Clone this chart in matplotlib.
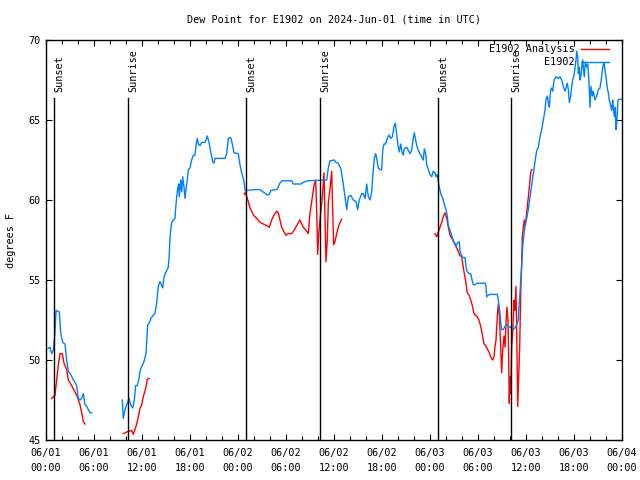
import matplotlib
matplotlib.use("Agg")
import matplotlib.pyplot as plt
import matplotlib.dates as mdates
import numpy as np
import datetime as dt

# ---------------- data (hours since 2024-06-01 00:00 UTC, dew point F) ----------------
obs1_hours = [0.25, 0.5, 0.71, 0.92, 1.12, 1.25, 1.67, 1.83, 2.08, 2.38, 2.58, 2.79, 3.08,
              3.42, 3.62, 3.83, 4.04, 4.25, 4.46, 4.67, 4.88, 5.08, 5.29, 5.5, 5.71]
obs1_dewpt = [50.7, 50.8, 50.4, 50.6, 51.7, 53.1, 53.0, 51.7, 51.1, 51.0, 50.0, 49.3, 49.1,
              48.75, 48.6, 48.4, 47.6, 47.5, 47.6, 47.9, 47.2, 47.1, 46.9, 46.7, 46.7]

obs2_hours = [9.54, 9.66, 9.88, 10.16, 10.38, 10.59, 10.84, 11.04, 11.21, 11.41, 11.62, 11.75,
              11.96, 12.25, 12.5, 12.71, 12.91, 13.12, 13.41, 13.62, 13.84, 14.04, 14.25, 14.59,
              14.75, 15.0, 15.29, 15.41, 15.5, 15.71, 15.91, 16.12, 16.21, 16.34, 16.46, 16.59,
              16.66, 16.84, 16.96, 17.09, 17.25, 17.38, 17.5, 17.66, 17.79, 18.0, 18.21, 18.41,
              18.62, 18.75, 18.91, 19.04, 19.25, 19.46, 19.88, 20.16, 20.38, 20.59, 20.84, 21.0,
              21.12, 21.75, 22.38, 22.59, 22.79, 23.09, 23.29, 23.5, 24.04, 24.25, 24.46, 24.75,
              24.88, 25.09, 26.12, 26.75, 27.16, 27.46, 27.71, 27.91, 28.12, 28.75, 28.96, 29.16,
              29.46, 30.71, 30.91, 31.34, 31.88, 32.16, 32.66, 35.09, 35.29, 35.5, 36.04, 36.25,
              36.54, 36.88, 37.16, 37.38, 37.59, 37.79, 38.09, 38.41, 38.75, 38.96, 39.16, 39.46,
              39.66, 39.88, 40.09, 40.29, 40.5, 40.71, 40.84, 41.04, 41.21, 41.34, 41.54, 41.75,
              41.96, 42.09, 42.25, 42.46, 42.66, 42.88, 43.09, 43.29, 43.5, 43.66, 43.84, 44.04,
              44.16, 44.34, 44.5, 44.66, 44.79, 45.09, 45.29, 45.5, 45.71, 45.91, 46.04, 46.21,
              46.34, 46.54, 46.75, 46.96, 47.16, 47.29, 47.46, 47.59, 47.79, 48.0, 48.21, 48.41,
              48.62, 48.75, 48.91, 49.04, 49.16, 49.34, 49.59, 49.75, 49.88, 50.0, 50.16, 50.29,
              50.5, 50.71, 50.91, 51.12, 51.25, 51.41, 51.66, 51.75, 51.96, 52.16, 52.38, 52.5,
              52.66, 52.91, 53.09, 53.21, 53.41, 53.62, 53.84, 54.88, 55.0, 55.09, 55.29, 55.5,
              56.41, 56.54, 56.66, 56.75, 56.84, 56.96, 57.16, 57.38, 57.59, 57.79, 58.0, 58.21,
              58.41, 58.62, 58.84, 59.04, 59.12, 59.25, 59.34, 59.46, 59.59, 59.75, 59.88, 60.09,
              60.29, 60.5, 60.71, 60.84, 61.0, 61.12, 61.34, 61.54, 61.75, 61.96, 62.16, 62.38,
              62.5, 62.66, 62.79, 62.91, 63.09, 63.21, 63.34, 63.5, 63.75, 64.04, 64.25, 64.46,
              64.66, 64.88, 65.0, 65.16, 65.29, 65.41, 65.59, 65.71, 65.84, 66.0, 66.12, 66.25,
              66.34, 66.46, 66.54, 66.66, 66.75, 66.88, 66.96, 67.09, 67.16, 67.29, 67.41, 67.59,
              67.71, 67.84, 68.0, 68.12, 68.29, 68.41, 68.62, 68.84, 69.04, 69.25, 69.46, 69.59,
              69.75, 69.88, 70.0, 70.16, 70.29, 70.41, 70.59, 70.71, 70.84, 70.91, 71.04, 71.16,
              71.25, 71.375, 71.5, 71.75, 71.96]
obs2_dewpt = [47.5, 46.35, 46.9, 47.3, 47.6, 47.2, 47.0, 47.5, 48.4, 48.4, 48.85, 49.3,
              49.6, 49.9, 50.4, 52.2, 52.3, 52.6, 52.8, 52.9, 53.6, 54.6, 54.9, 54.5,
              55.2, 55.5, 55.8, 56.6, 57.7, 58.6, 58.75, 58.85, 59.5, 60.2, 60.7, 61.0,
              60.2, 61.25, 60.5, 61.45, 60.8, 60.1, 60.7, 61.25, 61.9, 62.0, 62.5, 62.8,
              62.8, 63.4, 63.85, 63.5, 63.4, 63.6, 63.6, 64.0, 63.6, 63.0, 62.4, 62.3,
              62.6, 62.6, 62.6, 62.9, 63.85, 63.9, 63.5, 62.95, 62.9, 62.2, 61.7, 61.15,
              60.6, 60.6, 60.65, 60.65, 60.5, 60.4, 60.3, 60.35, 60.6, 60.65, 60.7, 61.0,
              61.2, 61.2, 61.0, 61.0, 61.0, 61.1, 61.2, 61.25, 62.0, 62.45, 62.5, 62.35,
              62.3, 61.9, 61.0, 60.2, 59.4, 60.2, 60.3, 60.0, 59.9, 59.4, 60.0, 60.4,
              60.4, 60.1, 61.0, 60.2, 60.0, 60.5, 61.45, 62.6, 62.9, 62.6, 62.0, 61.9,
              61.9, 63.1, 63.5, 63.5, 63.85, 64.06, 63.85, 63.95, 64.6, 64.8, 64.06, 63.3,
              63.0, 63.5, 63.0, 62.8, 63.2, 63.3, 63.1, 62.9, 63.1, 63.85, 64.2, 63.75,
              63.4, 63.1, 62.9, 62.7, 62.5, 63.2, 62.9, 62.2, 61.9, 61.6, 61.45, 61.8,
              61.7, 61.45, 61.6, 61.15, 60.8, 60.4, 60.1, 59.8, 59.6, 59.4, 59.0, 58.4,
              58.1, 57.8, 57.4, 57.3, 57.1, 57.3, 57.4, 56.8, 56.5, 56.4, 56.4, 55.8,
              55.5, 55.4, 55.4, 55.1, 54.7, 54.7, 54.8, 54.8, 54.6, 53.95, 54.06, 54.1,
              54.1, 53.75, 53.3, 52.9, 52.3, 51.9, 51.9, 52.1, 52.2, 52.1, 52.05, 52.0,
              51.9, 52.0, 52.2, 52.5, 53.3, 54.2, 55.0, 55.9, 57.1, 57.9, 58.4, 58.85,
              59.4, 60.2, 60.9, 61.45, 61.9, 62.4, 63.1, 63.3, 63.95, 64.4, 65.0, 65.6,
              66.25, 66.5, 66.1, 65.8, 66.9, 67.0, 66.8, 67.5, 67.7, 67.6, 67.7, 67.5,
              67.1, 66.8, 67.0, 67.3, 66.9, 66.1, 66.5, 67.1, 67.5, 67.8, 68.2, 68.75,
              69.3, 68.96, 67.9, 68.3, 67.5, 67.8, 68.3, 68.75, 68.3, 67.7, 68.6, 68.3,
              68.5, 67.7, 65.8, 67.1, 66.5, 66.8, 66.25, 66.5, 66.9, 67.0, 67.7, 68.3,
              68.6, 68.1, 67.7, 67.0, 66.7, 66.25, 65.9, 65.6, 66.25, 65.8, 65.2, 65.8,
              64.4, 65.0, 66.25, 66.3, 66.3]

ana1_hours = [0.71, 1.12, 1.33, 1.54, 1.75, 2.04, 2.25, 2.58, 2.79, 3.21, 3.62, 3.92, 4.25,
              4.46, 4.67, 4.88]
ana1_dewpt = [47.6, 47.8, 48.75, 49.7, 50.4, 50.4, 49.8, 49.4, 48.75, 48.4, 48.0, 47.7, 47.2,
              46.7, 46.15, 46.0]

ana2_hours = [9.66, 10.09, 10.71, 10.91, 11.34, 11.54, 11.75, 11.96, 12.16, 12.5, 12.66, 12.91]
ana2_dewpt = [45.4, 45.5, 45.6, 45.35, 46.0, 46.45, 46.98, 47.2, 47.7, 48.3, 48.8, 48.85]

ana3_hours = [24.79, 24.96, 25.09, 25.29, 25.5, 25.71, 25.91, 26.34, 26.75, 27.16, 27.59, 27.91,
              28.21, 28.5, 28.84, 29.04, 29.25, 29.46, 29.75, 30.0, 30.29, 30.71, 31.0, 31.34,
              31.75, 31.96, 32.16, 32.5, 32.79, 33.0, 33.21, 33.5, 33.71, 33.84, 33.96, 34.12,
              34.34, 34.54, 34.75, 34.88, 35.0, 35.16, 35.29, 35.5, 35.71, 35.84, 35.96, 36.12,
              36.34, 36.54, 36.75, 36.96]
ana3_dewpt = [60.35, 60.5, 60.2, 59.9, 59.5, 59.3, 59.06, 58.85, 58.6, 58.5, 58.4, 58.3,
              58.75, 59.06, 59.3, 59.2, 58.75, 58.3, 58.0, 57.8, 57.9, 57.9, 58.1, 58.4,
              58.75, 58.5, 58.3, 58.1, 57.9, 59.2, 59.9, 60.9, 61.25, 59.3, 56.6, 58.1,
              59.2, 60.2, 61.7, 58.75, 56.15, 57.5, 59.8, 60.7, 61.8, 59.2, 57.2, 57.4,
              57.9, 58.3, 58.6, 58.8]

ana4_hours = [48.62, 48.84, 49.04, 49.25, 49.46, 49.66, 49.88, 50.09, 50.29, 50.5, 50.71, 50.91,
              51.12, 51.34, 51.54, 51.75, 51.96, 52.09, 52.29, 52.5, 52.66, 52.88, 53.09, 53.29,
              53.5, 53.71, 53.91, 54.12, 54.34, 54.54, 54.75, 54.96, 55.16, 55.38, 55.59, 55.84,
              56.0, 56.12, 56.25, 56.41, 56.54, 56.66, 56.84, 56.96, 57.09, 57.25, 57.38, 57.5,
              57.62, 57.75, 57.84, 57.91, 58.0, 58.09, 58.21, 58.34, 58.5, 58.62, 58.75, 58.88,
              58.96, 59.09, 59.21, 59.34, 59.46, 59.54, 59.66, 59.79, 59.91, 60.09, 60.21, 60.34,
              60.5, 60.62, 60.75]
ana4_dewpt = [57.9, 57.7, 58.0, 58.3, 58.6, 58.96, 59.2, 58.85, 58.3, 57.8, 57.6, 57.5,
              57.2, 57.0, 56.8, 56.5, 56.5, 56.0, 55.4, 54.8, 54.2, 54.06, 53.75, 53.4,
              52.9, 52.8, 52.7, 52.5, 52.1, 51.6, 51.0, 50.9, 50.7, 50.5, 50.2, 50.0,
              50.2, 50.8, 51.25, 52.7, 53.5, 52.9, 50.8, 49.2, 50.6, 51.5, 50.8, 52.3,
              53.3, 52.5, 50.0, 47.3, 48.96, 47.9, 50.8, 51.7, 53.75, 53.1, 54.6, 50.4,
              47.1, 48.96, 50.8, 54.2, 56.0, 57.7, 58.3, 58.75, 58.4, 59.2, 59.8, 60.4,
              61.25, 61.8, 61.9]

sun_events = ["Sunset", "Sunrise", "Sunset", "Sunrise", "Sunset", "Sunrise"]
sun_times = ["2024-06-01 01:00", "2024-06-01 10:15", "2024-06-02 01:00",
             "2024-06-02 10:15", "2024-06-03 01:00", "2024-06-03 10:08"]

start = dt.datetime(2024, 6, 1, 0, 0)
end = dt.datetime(2024, 6, 4, 0, 0)


def to_dt(hours):
    return [start + dt.timedelta(hours=h) for h in hours]


# ---------------- figure ----------------
FONT = "DejaVu Sans Mono"
FS = 7.3
plt.rcParams["font.family"] = FONT
plt.rcParams["font.size"] = FS

fig = plt.figure(figsize=(6.4, 4.8), dpi=100)
ax = fig.add_axes([46 / 640, 1 - 440 / 480, 576 / 640, 400 / 480])

BLUE = "#0080ff"
RED = "#ff0000"

for hrs, vals in [(obs1_hours, obs1_dewpt), (obs2_hours, obs2_dewpt)]:
    ax.plot(to_dt(hrs), vals, color=BLUE, lw=1.0, zorder=3)
for hrs, vals in [(ana1_hours, ana1_dewpt), (ana2_hours, ana2_dewpt),
                  (ana3_hours, ana3_dewpt), (ana4_hours, ana4_dewpt)]:
    ax.plot(to_dt(hrs), vals, color=RED, lw=1.0, zorder=2)

ax.set_xlim(start, end)
ax.set_ylim(45, 70)
ax.set_yticks([45, 50, 55, 60, 65, 70])

for name, t in zip(sun_events, sun_times):
    tt = dt.datetime.strptime(t, "%Y-%m-%d %H:%M")
    ax.axvline(tt, ymin=0, ymax=0.855, color="black", lw=1.0, zorder=4)
    ax.text(tt, 66.75, name, rotation=90, ha="left", va="bottom",
            fontsize=FS, fontfamily=FONT)

ax.xaxis.set_major_locator(mdates.HourLocator(byhour=range(0, 24, 6)))
ax.xaxis.set_minor_locator(mdates.HourLocator(byhour=range(0, 24, 2)))
ax.xaxis.set_major_formatter(mdates.DateFormatter("%m/%d\n%H:%M"))

ax.tick_params(axis="both", which="both", direction="in", top=True, right=True,
               labelsize=FS, width=0.8)
ax.tick_params(axis="both", which="major", length=4.5)
ax.tick_params(axis="both", which="minor", length=3)
ax.tick_params(axis="x", which="major", pad=6)
ax.tick_params(axis="y", which="major", pad=4)
for lab in ax.get_xticklabels():
    lab.set_linespacing(1.6)

for s in ax.spines.values():
    s.set_linewidth(1.0)
    s.set_color("black")

ax.set_ylabel("degrees F", fontsize=FS, labelpad=9)
fig.text(334 / 640, 1 - 20 / 480, "Dew Point for E1902 on 2024-Jun-01 (time in UTC)",
         ha="center", va="center", fontsize=FS, fontfamily=FONT)

# legend (manual, text right of handle like the original)
leg_items = [("E1902 Analysis", RED, 0.977), ("E1902", BLUE, 0.944)]
for label, col, yy in leg_items:
    ax.text(0.918, yy, label, transform=ax.transAxes, ha="right", va="center",
            fontsize=FS, fontfamily=FONT, zorder=5)
    ax.plot([0.929, 0.977], [yy, yy], transform=ax.transAxes, color=col, lw=1.0,
            clip_on=False, zorder=5)

fig.savefig("out.png", dpi=100)
